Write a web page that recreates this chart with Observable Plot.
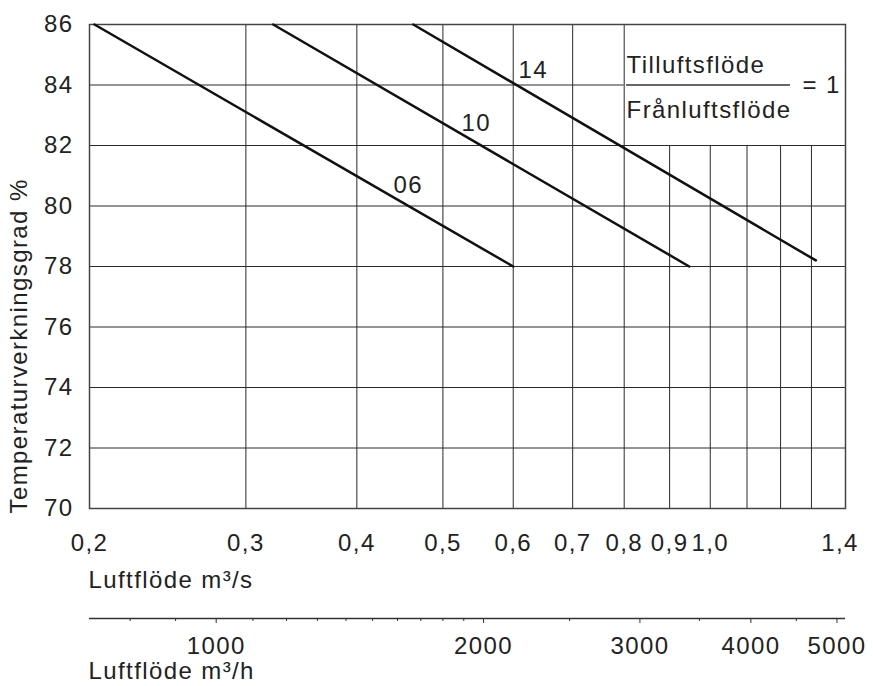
<!DOCTYPE html>
<html><head><meta charset="utf-8">
<script src="https://cdn.jsdelivr.net/npm/d3@7"></script>
<script src="https://cdn.jsdelivr.net/npm/@observablehq/plot@0.6"></script>
<style>
html,body{margin:0;padding:0;background:#fff;}
#chart svg{display:block;}
#chart svg text{letter-spacing:1.4px;}
</style></head><body><div id="chart"></div>
<script>
// Curves: straight lines on log-x between start and end point
const series = ["06", "10", "14"];
const flowStart = [0.2026, 0.322, 0.463];
const effStart = [86, 86, 86];
const flowEnd = [0.60, 0.947, 1.315];
const effEnd = [78, 78, 78.2];
const labelFlow = [0.457, 0.545, 0.632];
const labelEff = [80.7, 82.75, 84.5];

const xTicks = [0.2, 0.3, 0.4, 0.5, 0.6, 0.7, 0.8, 0.9, 1.0, 1.4];
const xTickLabels = ["0,2", "0,3", "0,4", "0,5", "0,6", "0,7", "0,8", "0,9", "1,0", "1,4"];
const yTicks = [70, 72, 74, 76, 78, 80, 82, 84, 86];
const gridFlow = [0.3, 0.4, 0.5, 0.6, 0.7, 0.8, 0.9, 1.0, 1.1, 1.2, 1.3];
const gridEff = [72, 74, 76, 78, 80, 82, 84];
const hourMajor = [1000, 2000, 3000, 4000, 5000];
const hourMinor = [800, 900, 1100, 1200, 1300, 1400, 1500, 1600, 1700, 1800, 1900, 2500, 3500, 4500];

const ratioTop = "Tilluftsflöde";
const ratioBottom = "Frånluftsflöde";
const ratioValue = "= 1";

const curveRows = [];
series.forEach((s, i) => {
  curveRows.push({series: s, flow: flowStart[i], eff: effStart[i]});
  curveRows.push({series: s, flow: flowEnd[i], eff: effEnd[i]});
});

const FONT = "Liberation Sans, Arial, Helvetica, sans-serif";
const TXT = "#222";
const X_MAX = 1.42;

const main = Plot.plot({
  width: 873, height: 600,
  marginLeft: 89, marginRight: 28, marginTop: 24, marginBottom: 92,
  style: {fontFamily: FONT, fontSize: "24px", color: TXT, background: "#fff"},
  x: {type: "log", domain: [0.2, X_MAX]},
  y: {domain: [70, 86]},
  marks: [
    Plot.ruleX(gridFlow, {x: d => d, y1: 70, y2: d => (d <= 0.8 ? 86 : 82), stroke: "#2a2a2a", strokeWidth: 1}),
    Plot.ruleY(gridEff, {y: d => d, x1: 0.2, x2: d => (d === 84 ? 0.8 : X_MAX), stroke: "#2a2a2a", strokeWidth: 1}),
    Plot.frame({stroke: "#444", strokeWidth: 1.5}),
    Plot.line(curveRows, {x: "flow", y: "eff", z: "series", stroke: "#111", strokeWidth: 2.5}),
    Plot.text(series, {x: (d, i) => labelFlow[i], y: (d, i) => labelEff[i], text: d => d, fontSize: 24, fill: TXT}),
    Plot.ruleY([84], {x1: 0.805, x2: 1.231, stroke: "#333", strokeWidth: 1.5}),
    Plot.text([ratioTop], {x: 0.805, y: 84, text: d => d, textAnchor: "start", dy: -19.5, fontSize: 24, fill: TXT}),
    Plot.text([ratioBottom], {x: 0.805, y: 84, text: d => d, textAnchor: "start", dy: 25, fontSize: 24, fill: TXT}),
    Plot.text([ratioValue], {x: 1.27, y: 84, text: d => d, textAnchor: "start", fontSize: 24, fill: TXT}),
    Plot.axisX({ticks: xTicks, tickFormat: d => xTickLabels[xTicks.indexOf(d)], tickSize: 0, tickPadding: 25, label: null, fontSize: 24, fill: TXT}),
    Plot.axisY({ticks: yTicks, tickSize: 0, tickPadding: 16, label: null, fontSize: 24, fill: TXT}),
    Plot.text(["Temperaturverkningsgrad %"], {frameAnchor: "bottom-left", text: d => d, rotate: -90, textAnchor: "start", dx: -63, dy: 5, fontSize: 24, fill: TXT}),
    Plot.text(["Luftflöde m³/s"], {frameAnchor: "bottom-left", text: d => d, textAnchor: "start", dx: -1, dy: 79, fontSize: 24, fill: TXT})
  ]
});

const second = Plot.plot({
  width: 873, height: 86,
  marginLeft: 89, marginRight: 28, marginTop: 0, marginBottom: 68,
  style: {fontFamily: FONT, fontSize: "24px", color: TXT, background: "#fff", overflow: "visible"},
  x: {type: "log", domain: [720, X_MAX * 3600]},
  y: {domain: [0, 1], axis: null},
  marks: [
    Plot.ruleY([0], {x1: 720, x2: X_MAX * 3600, stroke: "#333", strokeWidth: 1.5}),
    Plot.axisX({ticks: hourMinor, tickSize: 3, tickFormat: () => "", label: null, stroke: "#333"}),
    Plot.axisX({ticks: hourMajor, tickSize: 5, tickPadding: 13, tickFormat: d => String(d), label: null, fontSize: 24, fill: TXT, stroke: "#333"}),
    Plot.text(["Luftflöde m³/h"], {frameAnchor: "bottom-left", text: d => d, textAnchor: "start", dx: -1, dy: 60, fontSize: 24, fill: TXT})
  ]
});

const root = document.getElementById("chart");
root.appendChild(main);
root.appendChild(second);
</script>
</body></html>
